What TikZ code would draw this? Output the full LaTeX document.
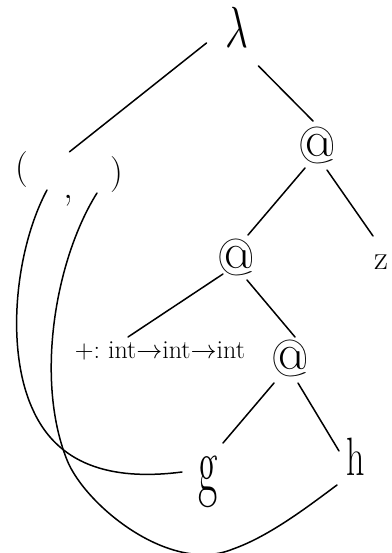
\RequirePackage{fix-cm}
\documentclass[tikz,border=0pt]{standalone}
\usepackage{graphicx}
\usetikzlibrary{calc,fit}
\begin{document}
\begin{tikzpicture}[x=1pt,y=-1pt,
  lbl/.style={inner sep=0pt, outer sep=0pt},
  atsign/.style={lbl, font=\fontsize{52}{52}\selectfont},
  link/.style={draw, line width=1.5pt, line cap=round, line join=round}]
\useasboundingbox (0,0) rectangle (391,553);
% nodes
\node[lbl] (lam) at (236.5,27) {\fontsize{40}{40}\selectfont\scalebox{1}[1.45]{$\lambda$}};
\node[atsign] (at1) at (317,145) {@};
\node[atsign] (at2) at (236,257) {@};
\node[atsign] (at3) at (290,358) {@};
\node[lbl] (z) at (381,262) {\fontsize{34}{34}\selectfont z};
\node[lbl] (plus) at (160,351) {\fontsize{26}{26}\selectfont +:\ int$\to$int$\to$int};
\node[lbl] (g) at (208,482) {\fontsize{42}{42}\selectfont\scalebox{1}[1.9]{g}};
\node[lbl] (h) at (356,457) {\fontsize{36}{36}\selectfont\scalebox{1}[1.5]{h}};
\node[lbl] (lp) at (22,170) {\fontsize{36}{36}\selectfont (};
\node[lbl] (cm) at (68,201) {\fontsize{40}{40}\selectfont ,};
\node[lbl] (rp) at (117,175) {\fontsize{36}{36}\selectfont )};
\node[fit=(lp)(cm)(rp), inner sep=0pt] (tup) {};
% edges
\draw[link] ($(lam)+(-30,16)$) -- (tup.north);
\draw[link] ($(lam)+(22,39)$) -- ($(at1)+(-4,-24)$);
\draw[link] ($(at1)+(-12,23)$) -- ($(at2)+(12,-22)$);
\draw[link] ($(at1)+(10,25)$) -- ($(z)+(-8,-26)$);
\draw[link] ($(at2)+(-13,17)$) -- ($(plus)+(-32,-14)$);
\draw[link] ($(at2)+(11,23)$) -- ($(at3)+(5,-21)$);
\draw[link] ($(at3)+(-16,25)$) -- ($(g)+(15,-39)$);
\draw[link] ($(at3)+(8,25)$) -- ($(h)+(-17,-6)$);
% binding curves
\draw[link] ($(cm)+(-21,-11)$) .. controls (15,250) and (5,350) .. (33,410)
  .. controls (60,470) and (120,480) .. ($(g)+(-26,-10)$);
\draw[link] ($(cm)+(29,-8)$) .. controls (55,260) and (35,380) .. (67,460)
  .. controls (85,505) and (170,575) .. (233,549)
  .. controls (270,536) and (310,505) .. ($(h)+(-19,28)$);
\end{tikzpicture}
\end{document}
